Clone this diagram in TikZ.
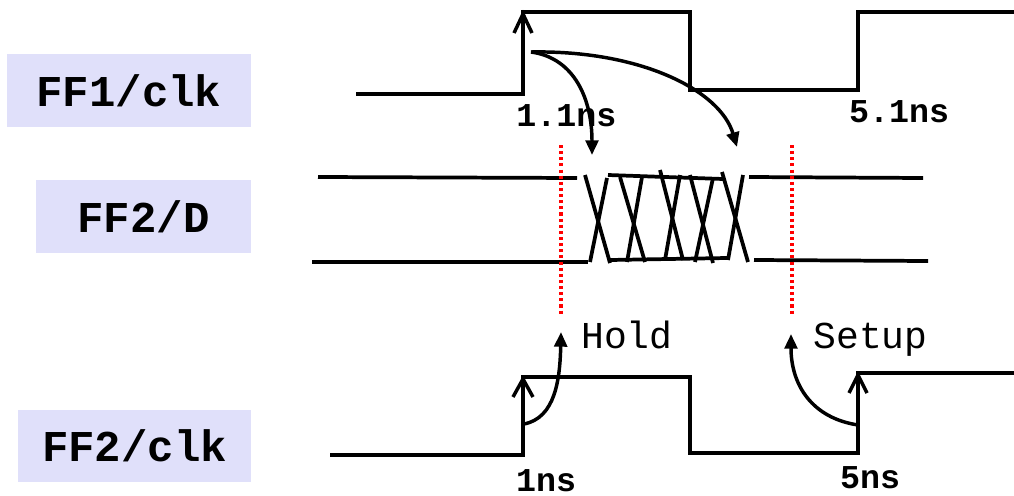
\documentclass[tikz,border=0pt]{standalone}
\usepackage{fontspec}
\setmonofont{Liberation Mono}
\usetikzlibrary{arrows.meta}
\definecolor{boxfill}{RGB}{224,224,250}
\tikzset{
  wave/.style={line width=2.8pt, line cap=butt, line join=miter},
  chev/.style={line width=2.6pt, line cap=butt, line join=miter},
  curvarrow/.style={line width=2.6pt, -{Triangle[length=11pt,width=9.5pt]}},
  reddots/.style={red, line width=2.4pt, dash pattern=on 2.3pt off 2.3pt},
  sigbox/.style={fill=boxfill, inner sep=0pt, font=\fontsize{33}{33}\selectfont\ttfamily\bfseries},
  timelbl/.style={anchor=base, inner sep=0pt, font=\fontsize{25}{25}\selectfont\ttfamily\bfseries},
  marglbl/.style={anchor=base, inner sep=0pt, font=\fontsize{28.5}{28.5}\selectfont\ttfamily}
}
\begin{document}
\begin{tikzpicture}[x=0.75pt,y=-0.75pt]
\useasboundingbox (0,0) rectangle (1014,496);
% signal name boxes
\node[sigbox, minimum width=183pt, minimum height=54.75pt] (ff1clk) at (129,90.5) {FF1/clk};
\node[sigbox, minimum width=161.25pt, minimum height=54.75pt] (ff2d) at (143.5,216.5) {FF2/D};
\node[sigbox, minimum width=174.75pt, minimum height=54pt] (ff2clk) at (134.5,446) {FF2/clk};

% FF1/clk waveform
\draw[wave] (356,94) -- (523,94) -- (523,12) -- (690,12) -- (690,90) -- (858,90) -- (858,12) -- (1014,12);
\draw[chev] (514,33) -- (523,14) -- (532,33);

% FF2/clk waveform
\draw[wave] (330,455) -- (523,455) -- (523,377) -- (690,377) -- (690,453) -- (858,453) -- (858,373) -- (1014,373);
\draw[chev] (513,397) -- (523,379) -- (533,397);
\draw[chev] (849,393) -- (858,375) -- (867,393);

% FF2/D waveform
\draw[wave] (318,177) -- (577,178);
\draw[wave] (312,262) -- (588,262);
\draw[wave] (749,177) -- (923,178);
\draw[wave] (754,260) -- (928,261);
\draw[wave] (585,175) -- (610,263);
\draw[wave] (590,262) -- (607,178);
\draw[wave] (608,175) -- (723,179);
\draw[wave] (610,260) -- (727,258);
\draw[wave] (620,177) -- (645,262);
\draw[wave] (642,177) -- (627,262);
\draw[wave] (660,170) -- (683,260);
\draw[wave] (680,175) -- (665,260);
\draw[wave] (690,175) -- (713,263);
\draw[wave] (713,178) -- (695,262);
\draw[wave] (722,172) -- (748,262);
\draw[wave] (743,175) -- (728,260);

% red dotted markers
\draw[reddots] (561,145) -- (561,315);
\draw[reddots] (792,145) -- (792,315);

% labels
\node[timelbl] (t11) at (566.5,126) {1.1ns};
\node[timelbl] (t51) at (899,122) {5.1ns};
\node[timelbl] (t1) at (546,491) {1ns};
\node[timelbl] (t5) at (870,488) {5ns};
\node[marglbl] (hold) at (627,348) {Hold};
\node[marglbl] (setup) at (870.5,348) {Setup};

% curved arrows
\coordinate (src) at (531,52);
\coordinate (dA) at (592,155);
\coordinate (dB) at (737,147);
\coordinate (hS) at (524,424);
\coordinate (hE) at (561,332);
\coordinate (sS) at (858,425);
\coordinate (sE) at (791,334);
\draw[curvarrow] (src) .. controls (575,58) and (592,100) .. (dA);
\draw[curvarrow] (src) .. controls (640,50) and (720,90) .. (dB);
\draw[curvarrow] (hS) .. controls (555,418) and (560,380) .. (hE);
\draw[curvarrow] (sS) .. controls (812,418) and (791,385) .. (sE);
\end{tikzpicture}
\end{document}
